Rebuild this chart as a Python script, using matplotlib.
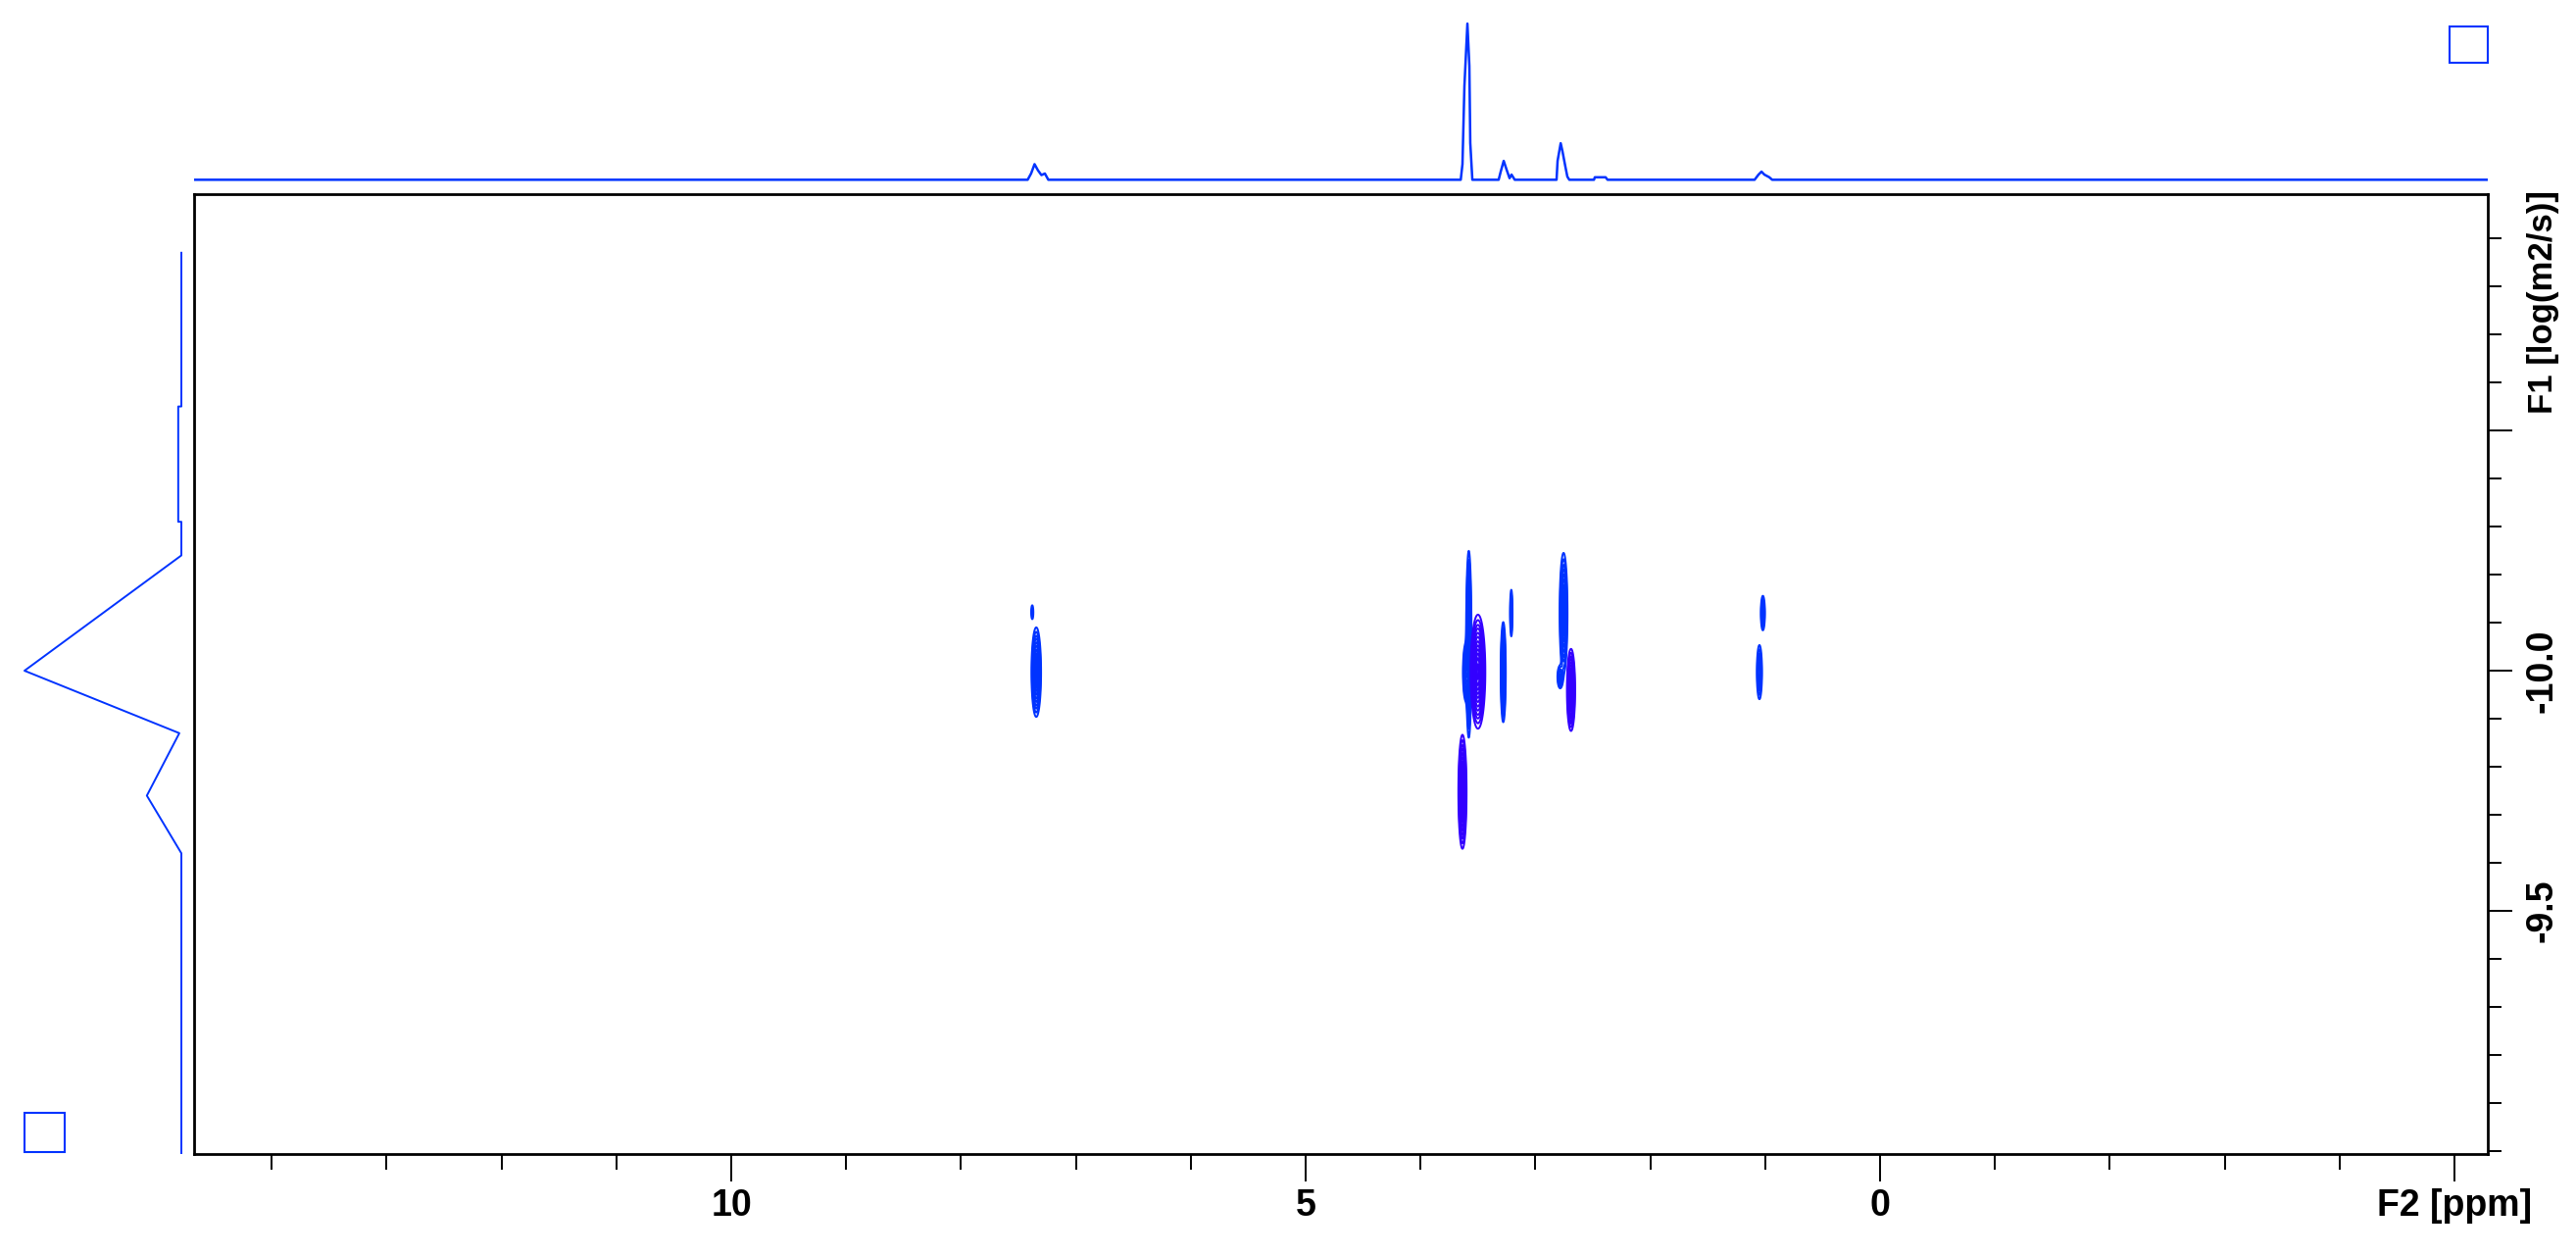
import numpy as np
import matplotlib
matplotlib.use("Agg")
import matplotlib.pyplot as plt
from matplotlib.patches import Rectangle
from matplotlib.ticker import FixedLocator, MultipleLocator

BLUE = "#0033ff"
PURPLE = "#3300ff"

# F2 (1H) projection on top: ppm, relative intensity
top_ppm = [14.68, 7.42, 7.39, 7.36, 7.33, 7.30, 7.27, 7.24,
           3.65, 3.635, 3.618, 3.592, 3.575, 3.567, 3.549,
           3.32, 3.302, 3.276, 3.251, 3.225, 3.208, 3.18,
           2.816, 2.807, 2.78, 2.765, 2.739, 2.722, 2.705,
           2.49, 2.483, 2.389, 2.372,
           1.092, 1.058, 1.032, 1.007, 0.964, 0.939, -5.29]
top_int = [0, 0, 0.04, 0.10, 0.06, 0.03, 0.04, 0,
           0, 0.10, 0.60, 1.0, 0.73, 0.235, 0,
           0, 0.052, 0.121, 0.065, 0.01, 0.033, 0,
           0, 0.121, 0.234, 0.184, 0.083, 0.02, 0,
           0, 0.016, 0.016, 0,
           0, 0.033, 0.052, 0.033, 0.016, 0, 0]

# F1 (diffusion) projection on the left: log D, relative intensity
left_logd = [-10.87, -10.55, -10.55, -10.31, -10.31, -10.24, -10.00, -9.87, -9.74, -9.62, -8.99]
left_int = [0, 0, 0.02, 0.02, 0, 0, 1.0, 0.013, 0.22, 0, 0]

# 2D cross peaks (blue contour set)
blue_ppm = [7.345, 7.38, 3.58, 3.605, 3.28, 3.21, 2.755, 2.785, 1.02, 1.05]
blue_logd = [-9.997, -10.122, -10.055, -9.997, -9.997, -10.12, -10.12, -9.987, -10.12, -9.997]
blue_wppm = [0.018, 0.008, 0.010, 0.012, 0.010, 0.006, 0.015, 0.013, 0.010, 0.012]
blue_wlogd = [0.040, 0.012, 0.082, 0.028, 0.047, 0.027, 0.055, 0.013, 0.020, 0.030]
blue_amp = [0.9, 0.12, 1.0, 0.6, 0.7, 0.3, 0.8, 0.3, 0.3, 0.35]

# 2D cross peaks (purple contour set)
purple_ppm = [3.50, 2.69, 3.635]
purple_logd = [-9.998, -9.96, -9.748]
purple_wppm = [0.027, 0.015, 0.015]
purple_wlogd = [0.050, 0.036, 0.050]
purple_amp = [1.0, 1.0, 1.0]

levels = [0.06, 0.1, 0.15, 0.2, 0.27, 0.35, 0.45, 0.55, 0.65, 0.75, 0.85, 0.95]

plt.rcParams["font.family"] = ["Liberation Sans", "DejaVu Sans"]
plt.rcParams["font.weight"] = "bold"
plt.rcParams["axes.unicode_minus"] = False

XLIM = (14.676, -5.29)
YLIM = (-8.994, -10.992)


def peak_field(pp, ll, ppm, logd, wp, wl, amp):
    z = np.zeros_like(pp)
    for p, l, a, b, h in zip(ppm, logd, wp, wl, amp):
        z += h * np.exp(-0.5 * ((pp - p) / a) ** 2 - 0.5 * ((ll - l) / b) ** 2)
    return z


fig = plt.figure(figsize=(26.28, 12.8), dpi=100)
ax = fig.add_axes([0.07534, 0.08047, 0.89041, 0.76484])
ax_top = fig.add_axes([0.07534, 0.84531, 0.89041, 0.15469])
ax_left = fig.add_axes([0.0, 0.08047, 0.07534, 0.76484])

# contours
grid_ppm = np.arange(0.8, 7.6, 0.002)
grid_logd = np.arange(-10.4, -9.5, 0.003)
PP, LL = np.meshgrid(grid_ppm, grid_logd)
zb = peak_field(PP, LL, blue_ppm, blue_logd, blue_wppm, blue_wlogd, blue_amp)
zp = peak_field(PP, LL, purple_ppm, purple_logd, purple_wppm, purple_wlogd, purple_amp)
ax.contour(grid_ppm, grid_logd, zb, levels=levels, colors=BLUE, linewidths=1.4)
ax.contour(grid_ppm, grid_logd, zp, levels=levels, colors=PURPLE, linewidths=1.4)

ax.set_xlim(*XLIM)
ax.set_ylim(*YLIM)
for s in ax.spines.values():
    s.set_linewidth(2.0)

ax.xaxis.set_major_locator(FixedLocator([10, 5, 0, -5]))
ax.set_xticklabels(["10", "5", "0", "F2 [ppm]"])
ax.xaxis.set_minor_locator(MultipleLocator(1))
ax.yaxis.tick_right()
ax.yaxis.set_major_locator(FixedLocator([-10.5, -10.0, -9.5]))
ax.set_yticklabels(["", "-10.0", "-9.5"])
ax.yaxis.set_minor_locator(MultipleLocator(0.1))
ax.tick_params(which="both", width=1.4, direction="out", labelsize=27)
ax.tick_params(axis="x", which="major", length=20, pad=5)
ax.tick_params(axis="x", which="minor", length=11.5)
ax.tick_params(axis="y", which="major", length=18, pad=9, labelrotation=90)
ax.tick_params(axis="y", which="minor", length=10)
for lab in ax.get_yticklabels():
    lab.set_va("center")

ax.text(1.0171, -10.767, "F1 [log(m2/s)]", transform=ax.get_yaxis_transform(),
        rotation=90, ha="left", va="center", fontsize=25, fontweight="bold")

# projections
ax_top.plot(top_ppm, top_int, color=BLUE, lw=1.8)
ax_top.set_xlim(*XLIM)
ax_top.set_ylim(-0.092, 1.151)
ax_top.axis("off")

ax_left.plot(left_int, left_logd, color=BLUE, lw=1.4)
ax_left.set_xlim(1.156, -0.081)
ax_left.set_ylim(*YLIM)
ax_left.axis("off")

# the two small boxes in the corners
fig.add_artist(Rectangle((0.9509, 0.950), 0.0149, 0.0289, transform=fig.transFigure,
                         fill=False, ec=BLUE, lw=1.5))
fig.add_artist(Rectangle((0.0095, 0.082), 0.0156, 0.0313, transform=fig.transFigure,
                         fill=False, ec=BLUE, lw=1.5))

fig.savefig("out.png", dpi=100, facecolor="white")
